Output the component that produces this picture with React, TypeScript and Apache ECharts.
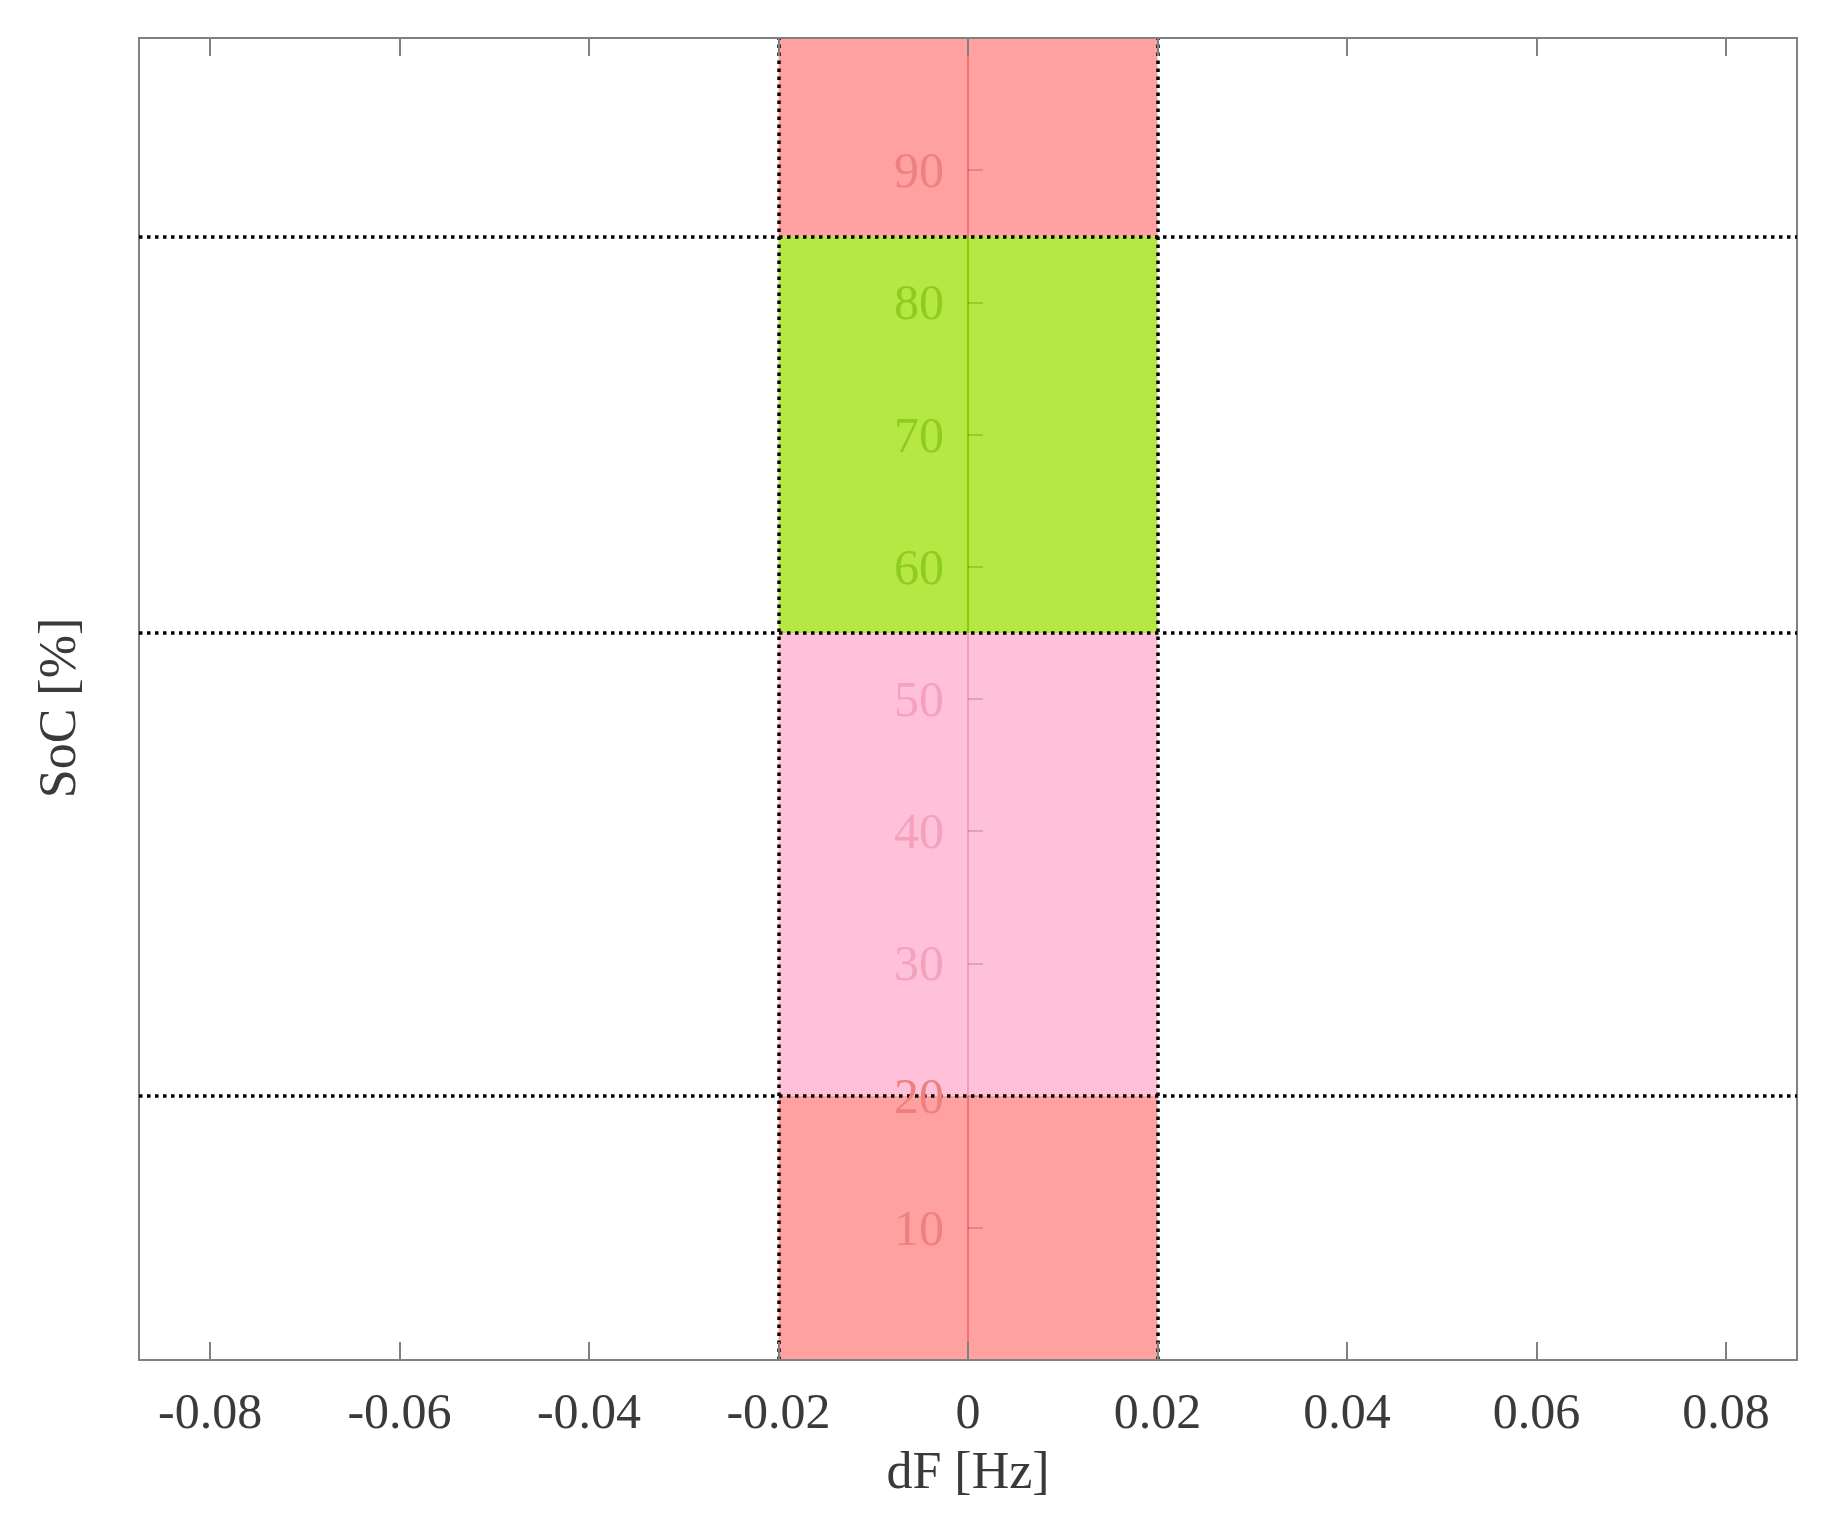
import React, { useEffect, useRef } from "react";
import * as echarts from "echarts";

// ---- data ----
const xTicks = [-0.08, -0.06, -0.04, -0.02, 0, 0.02, 0.04, 0.06, 0.08];
const yTicks = [10, 20, 30, 40, 50, 60, 70, 80, 90];
const xRange = [-0.0875, 0.0875];
const yRange = [0, 100];
const bandX = [-0.02, 0.02];
const zoneBounds = [0, 20, 55, 85, 100];
const thresholds = [20, 55, 85];
const yAxisAtX = 0;
const xTitle = "dF [Hz]";
const yTitle = "SoC [%]";

// ---- styles ----
const zoneFill = ["#FFA1A1", "#FFC0D9", "#B6E843", "#FFA1A1"];
const zoneLine = ["#F07272", "#F29EB8", "#8CC810", "#F07272"];
const zoneLabel = ["#EE8080", "#F4A2BC", "#8FCB20", "#EE8080"];
const FONT = "Liberation Serif";
const GRID_LEFT = 131;

function zoneOf(v: number) {
  for (let i = 0; i < zoneBounds.length - 1; i++) {
    if (v <= zoneBounds[i + 1]) return i;
  }
  return zoneBounds.length - 2;
}

export default function App() {
  const ref = useRef<HTMLDivElement>(null);
  useEffect(() => {
    if (!ref.current) return;
    const chart = echarts.init(ref.current, undefined, { renderer: "svg" });
    const zones = zoneBounds.slice(0, -1).map((lo, i) => ({ lo, hi: zoneBounds[i + 1], i }));
    const option: any = {
      animation: false,
      backgroundColor: "#fff",
      grid: {
        left: GRID_LEFT,
        right: 22,
        top: 30,
        bottom: 160,
        show: true,
        borderColor: "#808080",
        borderWidth: 2,
        backgroundColor: "transparent",
      },
      xAxis: [
        {
          type: "value",
          min: xRange[0],
          max: xRange[1],
          position: "bottom",
          z: 6,
          splitLine: { show: false },
          axisLine: { show: true, onZero: false, lineStyle: { color: "#808080", width: 2 } },
          axisTick: { show: true, inside: true, length: 18, customValues: xTicks, lineStyle: { color: "#808080", width: 2 } },
          axisLabel: {
            show: true,
            customValues: xTicks,
            margin: 26,
            color: "#3a3a3a",
            fontFamily: FONT,
            fontSize: 50,
            formatter: (v: number) => (Math.abs(v) < 1e-9 ? "0" : Number(v).toFixed(2)),
          },
          name: xTitle,
          nameLocation: "middle",
          nameGap: 84,
          nameTextStyle: { color: "#3a3a3a", fontFamily: FONT, fontSize: 52 },
        },
        {
          type: "value",
          min: xRange[0],
          max: xRange[1],
          position: "top",
          z: 6,
          splitLine: { show: false },
          axisLine: { show: true, onZero: false, lineStyle: { color: "#808080", width: 2 } },
          axisTick: { show: true, inside: true, length: 18, customValues: xTicks, lineStyle: { color: "#808080", width: 2 } },
          axisLabel: { show: false },
        },
      ],
      yAxis: [
        {
          type: "value",
          min: yRange[0],
          max: yRange[1],
          position: "left",
          offset: 0,
          z: 5,
          splitLine: { show: false },
          axisLine: { show: false, onZero: false },
          axisTick: { show: true, inside: true, length: 15, customValues: yTicks, lineStyle: { color: "rgba(0,0,0,0.14)", width: 2 } },
          axisLabel: {
            show: true,
            customValues: yTicks,
            margin: 24,
            fontFamily: FONT,
            fontSize: 50,
            color: (v: any) => zoneLabel[zoneOf(Number(v))],
          },
        },
      ],
      graphic: [
        {
          type: "text",
          x: 49,
          y: 700,
          rotation: Math.PI / 2,
          style: {
            text: yTitle,
            fill: "#3a3a3a",
            font: `52px "${FONT}"`,
            textAlign: "center",
            textVerticalAlign: "middle",
          },
        },
      ],
      series: [
        {
          type: "line",
          data: [],
          z: 2,
          silent: true,
          markArea: {
            silent: true,
            data: zones.map((z) => [
              { xAxis: bandX[0], yAxis: z.lo, itemStyle: { color: zoneFill[z.i], opacity: 1 } },
              { xAxis: bandX[1], yAxis: z.hi },
            ]),
          },
          markLine: {
            silent: true,
            symbol: "none",
            label: { show: false },
            data: zones.map((z) => [
              { coord: [yAxisAtX, z.lo], lineStyle: { color: zoneLine[z.i], width: 2, type: "solid" } },
              { coord: [yAxisAtX, z.hi] },
            ]),
          },
        },
        {
          type: "line",
          data: [],
          z: 10,
          silent: true,
          markLine: {
            silent: true,
            symbol: "none",
            label: { show: false },
            lineStyle: { color: "#000", width: 3.5, type: [3.5, 4.5] },
            data: [
              ...thresholds.map((t) => ({ yAxis: t })),
              ...bandX.map((b) => ({ xAxis: b })),
            ],
          },
        },
      ],
    };
    chart.setOption(option);
    // move the y axis to x = 0 using the library's own scale
    const zeroPx = chart.convertToPixel({ xAxisIndex: 0 }, yAxisAtX) as number;
    chart.setOption({ yAxis: [{ offset: -(zeroPx - GRID_LEFT) }] });
    return () => chart.dispose();
  }, []);
  return <div ref={ref} style={{ width: 1811, height: 1512 }} />;
}
